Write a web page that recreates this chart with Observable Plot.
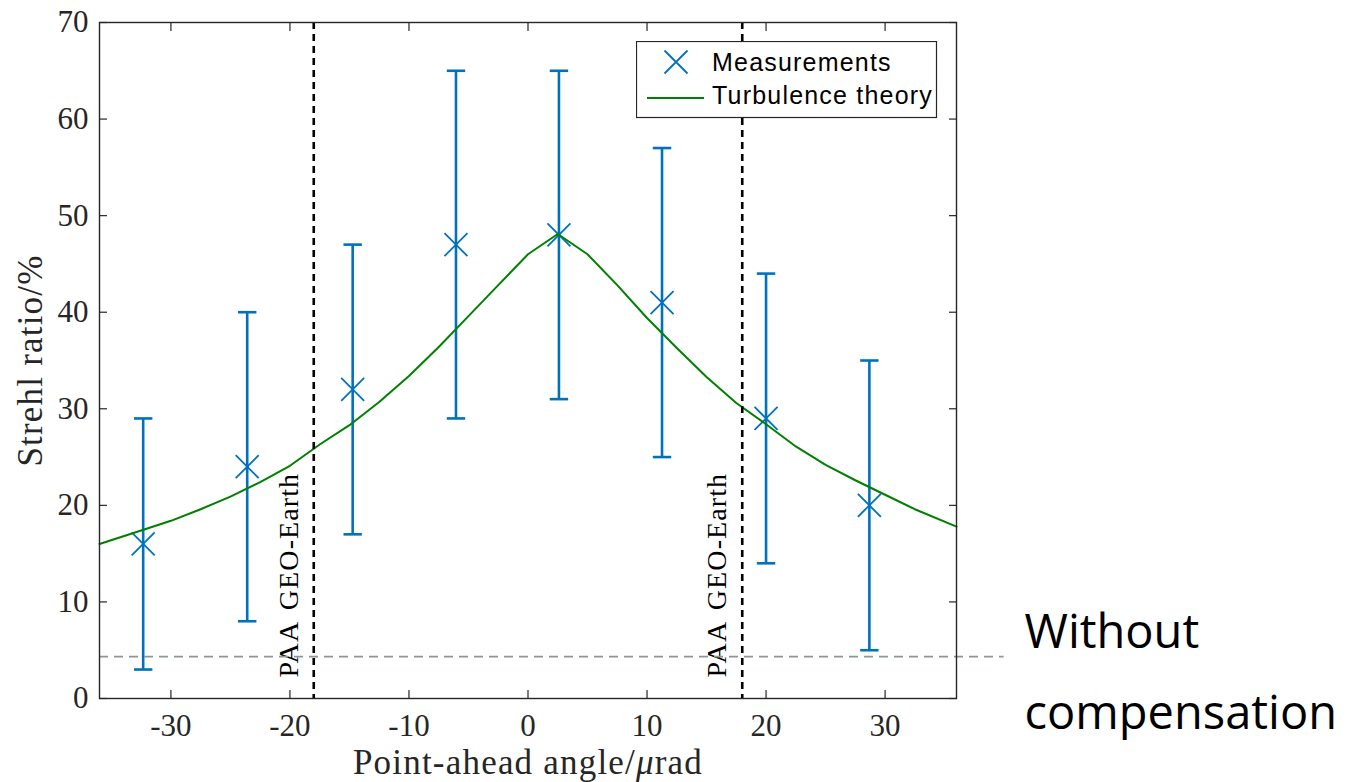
<!DOCTYPE html>
<html>
<head>
<meta charset="utf-8">
<script src="https://cdn.jsdelivr.net/npm/d3@7"></script>
<script src="https://cdn.jsdelivr.net/npm/@observablehq/plot@0.6"></script>
<style>
  html, body { margin: 0; padding: 0; background: #fff; }
  #wrap { position: relative; width: 1348px; height: 782px; }
  #legend { position: absolute; left: 636px; top: 41px; }
</style>
</head>
<body>
<div id="wrap"></div>
<script>
// ---- data ----
const measX  = [-32.33, -23.59, -14.73, -6.05, 2.6, 11.26, 20.0, 28.68];
const measY  = [16, 24, 32, 47, 48, 41, 29, 20];
const measLo = [3, 8, 17, 29, 31, 25, 14, 5];
const measHi = [29, 40, 47, 65, 65, 57, 44, 35];

const theoryX = [-36, -32.5, -30, -27.5, -25, -22.5, -20, -17.5, -15, -12.5, -10, -7.5, -5, -2.5, 0, 2.5, 5, 7.5, 10, 12.5, 15, 17.5, 20, 22.5, 25, 27.5, 30, 32.5, 36];
const theoryY = [16.0, 17.4, 18.4, 19.6, 20.9, 22.4, 24.1, 26.3, 28.3, 30.7, 33.4, 36.4, 39.6, 42.8, 46.0, 48.1, 46.0, 42.8, 39.4, 36.3, 33.3, 30.6, 28.4, 26.1, 24.2, 22.6, 21.1, 19.6, 17.8];

const paaLines = [-18, 18];
const paaLabel = "PAA GEO-Earth";
const noCompLevel = 4.34;
const noCompSpan = [-36, 40];
const noCompLabel = "Without\ncompensation";

const xTicks = [-30, -20, -10, 0, 10, 20, 30];
const yTicks = [0, 10, 20, 30, 40, 50, 60, 70];
const xDomain = [-36, 36];
const yDomain = [0, 70];
const xLabel = "Point-ahead angle/μrad";
const yLabel = "Strehl ratio/%";
const legendLabels = ["Measurements", "Turbulence theory"];

// ---- tables ----
const meas = measX.map((x, i) => ({x, y: measY[i], lo: measLo[i], hi: measHi[i]}));
const theory = theoryX.map((x, i) => ({x, y: theoryY[i]}));

const blue = "#0072BD";
const green = "#008000";
const axisColor = "#262626";
const serif = "'Liberation Serif', 'Times New Roman', serif";

const timesSym = { draw(ctx) { const r = 11.5; ctx.moveTo(-r, -r); ctx.lineTo(r, r); ctx.moveTo(-r, r); ctx.lineTo(r, -r); } };
const capSym = { draw(ctx) { const w = 9.2; ctx.moveTo(-w, 0); ctx.lineTo(w, 0); } };

const chart = Plot.plot({
  width: 1348,
  height: 782,
  marginLeft: 99,
  marginRight: 392,
  marginTop: 22,
  marginBottom: 84,
  style: { fontFamily: serif, background: "transparent", color: axisColor },
  x: { domain: xDomain },
  y: { domain: yDomain },
  marks: [
    // error bars
    Plot.ruleX(meas, { x: "x", y1: "lo", y2: "hi", stroke: blue, strokeWidth: 2.6 }),
    Plot.dot(meas, { x: "x", y: "lo", symbol: capSym, stroke: blue, fill: "none", strokeWidth: 2.6, r: 5 }),
    Plot.dot(meas, { x: "x", y: "hi", symbol: capSym, stroke: blue, fill: "none", strokeWidth: 2.6, r: 5 }),
    Plot.dot(meas, { x: "x", y: "y", symbol: timesSym, stroke: blue, fill: "none", strokeWidth: 1.8, r: 5 }),
    // theory
    Plot.line(theory, { x: "x", y: "y", stroke: green, strokeWidth: 2 }),
    // PAA lines
    Plot.ruleX(paaLines, { stroke: "#000", strokeWidth: 2.6, strokeDasharray: "7,5" }),
    Plot.text(paaLines, { x: d => d, text: () => paaLabel, frameAnchor: "bottom", rotate: -90, textAnchor: "start", lineAnchor: "bottom", dx: -16, dy: -21, fontSize: 28, fill: "#000", fontFamily: serif }),
    // without compensation
    Plot.ruleY([noCompLevel], { x1: noCompSpan[0], x2: noCompSpan[1], stroke: "#8c9696", strokeWidth: 1.6, strokeDasharray: "9,6" }),
    Plot.text([noCompLevel], { y: d => d, text: () => noCompLabel, frameAnchor: "right", textAnchor: "start", lineAnchor: "middle", lineHeight: 1.72, dx: 68, dy: 6, fontSize: 47, fontFamily: "'Open Sans', 'Noto Sans', sans-serif", fill: "#000" }),
    // frame and axes
    Plot.frame({ stroke: axisColor, strokeWidth: 1.4 }),
    Plot.axisX({ anchor: "bottom", ticks: xTicks, tickSize: -8, fill: "none", stroke: axisColor, strokeWidth: 1.2, label: null }),
    Plot.axisX({ anchor: "top", ticks: xTicks, tickSize: -8, fill: "none", stroke: axisColor, strokeWidth: 1.2, label: null }),
    Plot.axisY({ anchor: "left", ticks: yTicks, tickSize: -8, fill: "none", stroke: axisColor, strokeWidth: 1.2, label: null }),
    Plot.axisY({ anchor: "right", ticks: yTicks, tickSize: -8, fill: "none", stroke: axisColor, strokeWidth: 1.2, label: null }),
    Plot.axisX({ anchor: "bottom", ticks: xTicks, tickSize: 0, tickPadding: 15, tickFormat: d => String(d), fontSize: 31, fontFamily: serif, fill: axisColor, label: null }),
    Plot.axisY({ anchor: "left", ticks: yTicks, tickSize: 0, tickPadding: 11, tickFormat: d => String(d), fontSize: 31, fontFamily: serif, fill: axisColor, label: null }),
    // axis labels
    Plot.text([xLabel], { text: d => d, frameAnchor: "bottom", textAnchor: "middle", lineAnchor: "bottom", dy: 75, fontSize: 35, fontFamily: serif, fill: axisColor }),
    Plot.text([yLabel], { text: d => d, frameAnchor: "left", textAnchor: "middle", rotate: -90, lineAnchor: "bottom", dx: -58, fontSize: 35, fontFamily: serif, fill: axisColor })
  ]
});

// letter spacing to approximate Computer Modern widths; italic mu
d3.select(chart).selectAll("text").each(function () {
  const t = this.textContent;
  if (t === xLabel) {
    this.setAttribute("letter-spacing", "1.2");
    const parts = t.split("μ");
    this.textContent = "";
    const ns = "http://www.w3.org/2000/svg";
    const a = document.createElementNS(ns, "tspan"); a.textContent = parts[0];
    const m = document.createElementNS(ns, "tspan"); m.textContent = "μ"; m.setAttribute("font-style", "italic");
    const b = document.createElementNS(ns, "tspan"); b.textContent = parts[1];
    this.append(a, m, b);
  } else if (t === yLabel) {
    this.setAttribute("letter-spacing", "1.2");
  } else if (t === paaLabel) {
    this.setAttribute("letter-spacing", "1.1");
    this.setAttribute("word-spacing", "4");
  }
});

const wrap = document.getElementById("wrap");
wrap.appendChild(chart);

// legend (inside the axes, top right)
const lg = d3.select(wrap).append("svg").attr("id", "legend").attr("width", 302).attr("height", 78);
lg.append("rect").attr("x", 0.5).attr("y", 0.5).attr("width", 300).attr("height", 76).attr("fill", "#fff").attr("stroke", axisColor).attr("stroke-width", 1.2);
const r = 11.5;
lg.append("path").attr("d", `M${40 - r},${21 - r}L${40 + r},${21 + r}M${40 - r},${21 + r}L${40 + r},${21 - r}`).attr("stroke", blue).attr("stroke-width", 1.8).attr("fill", "none");
lg.append("line").attr("x1", 11).attr("x2", 68).attr("y1", 57).attr("y2", 57).attr("stroke", green).attr("stroke-width", 2.2);
lg.selectAll("text.lab").data(legendLabels).join("text")
  .attr("x", 76).attr("y", (d, i) => i === 0 ? 30 : 63)
  .attr("font-family", "'Liberation Sans', Arial, sans-serif").attr("font-size", 25)
  .attr("letter-spacing", 1.2).attr("fill", "#000").text(d => d);
</script>
</body>
</html>
